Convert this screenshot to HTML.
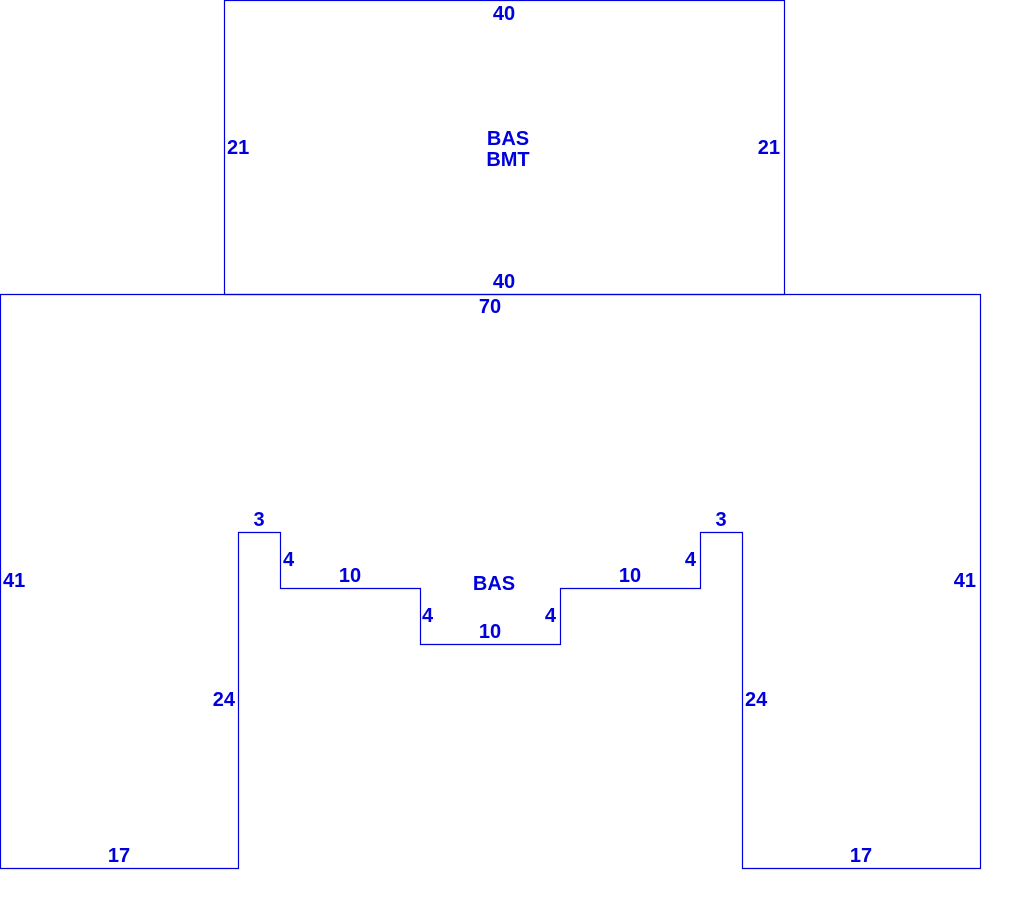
<!DOCTYPE html>
<html><head><meta charset="utf-8"><style>
html,body{margin:0;padding:0;background:#fff;width:1020px;height:914px;overflow:hidden}
text{font-family:"Liberation Sans",sans-serif;font-size:20px;font-weight:bold;fill:#0000dd}
</style></head><body>
<svg width="1020" height="914" xmlns="http://www.w3.org/2000/svg">
<g fill="none" stroke="#0000dd" stroke-width="1.2">
<rect x="224.5" y="0.5" width="560" height="294"/>
<path d="M0.5 294.5 H980.5 V868.5 H742.5 V532.5 H700.5 V588.5 H560.5 V644.5 H420.5 V588.5 H280.5 V532.5 H238.5 V868.5 H0.5 Z"/>
</g>
<text x="504" y="20" text-anchor="middle">40</text>
<text x="227" y="154">21</text>
<text x="780" y="154" text-anchor="end">21</text>
<text x="508" y="145" text-anchor="middle">BAS</text>
<text x="508" y="166" text-anchor="middle">BMT</text>
<text x="504" y="288" text-anchor="middle">40</text>
<text x="490" y="313" text-anchor="middle">70</text>
<text x="3" y="587">41</text>
<text x="976" y="587" text-anchor="end">41</text>
<text x="259" y="526" text-anchor="middle">3</text>
<text x="721" y="526" text-anchor="middle">3</text>
<text x="283" y="566">4</text>
<text x="696" y="566" text-anchor="end">4</text>
<text x="350" y="582" text-anchor="middle">10</text>
<text x="630" y="582" text-anchor="middle">10</text>
<text x="494" y="590" text-anchor="middle">BAS</text>
<text x="422" y="622">4</text>
<text x="556" y="622" text-anchor="end">4</text>
<text x="490" y="638" text-anchor="middle">10</text>
<text x="235" y="706" text-anchor="end">24</text>
<text x="745" y="706">24</text>
<text x="119" y="862" text-anchor="middle">17</text>
<text x="861" y="862" text-anchor="middle">17</text>
</svg>
</body></html>
